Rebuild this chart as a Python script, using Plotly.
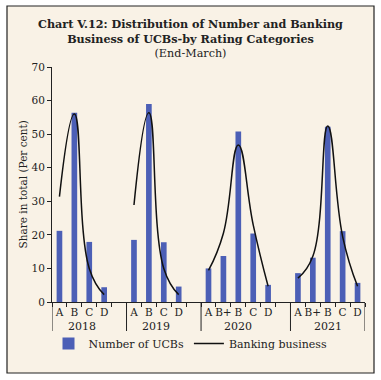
import plotly.graph_objects as go

years = ["2018", "2019", "2020", "2021"]
group_ratings = [["A", "B", "C", "D", ""],
                 ["A", "B", "C", "D", ""],
                 ["A", "B+", "B", "C", "D", ""],
                 ["A", "B+", "B", "C", "D"]]
number_of_ucbs = [21.2, 56.4, 17.9, 4.4, None,
                  18.5, 59.0, 17.8, 4.6, None,
                  10.0, 13.7, 50.8, 20.4, 5.1, None,
                  8.6, 13.2, 52.2, 21.1, 5.7]
banking_business = [31.4, 56.0, 10.0, 2.2, None,
                    28.9, 56.4, 10.0, 2.2, None,
                    9.4, 20.5, 46.8, 23.0, 4.7, None,
                    7.1, 13.6, 52.4, 19.5, 4.7]

ratings = [r for g in group_ratings for r in g]
xpos = list(range(len(ratings)))

W, H = 381, 380
L, R, T, B = 52, 16, 67, 78
pw, ph = W - L - R, H - T - B

def px2paper_x(p):
    return (p - L) / pw

def px2paper_y(p):
    return (H - B - p) / ph

serif = "DejaVu Serif"
ink = "#222222"

fig = go.Figure()
fig.add_trace(go.Bar(x=xpos, y=number_of_ucbs, name="Number of UCBs",
                     marker=dict(color="#4c5fb6", line=dict(width=0)), width=0.38))
fig.add_trace(go.Scatter(x=xpos, y=banking_business, name="Banking business",
                         mode="lines", line=dict(color="#111111", width=1.5, shape="spline", smoothing=1.3),
                         connectgaps=False))

fig.add_shape(type="rect", xref="paper", yref="paper",
              x0=px2paper_x(7), x1=px2paper_x(374), y0=px2paper_y(373), y1=px2paper_y(6),
              fillcolor="#f9f2e6", line=dict(color=ink, width=1.2), layer="below")

# group dividers and year labels
start = 0
bounds = [-0.5]
for yr, g in zip(years, group_ratings):
    end = start + len(g)
    bounds.append(end - 0.5)
    n_real = len([r for r in g if r])
    center = start + (n_real - 1) / 2
    fig.add_annotation(x=center, y=px2paper_y(326), xref="x", yref="paper", text=yr,
                       showarrow=False, font=dict(family=serif, size=11, color=ink),
                       xanchor="center", yanchor="middle")
    start = end
for b in bounds:
    fig.add_shape(type="line", xref="x", yref="paper", x0=b, x1=b,
                  y0=0, y1=px2paper_y(331), line=dict(color=ink, width=1))

fig.add_annotation(x=px2paper_x(22), y=0.5, xref="paper", yref="paper",
                   text="Share in total (Per cent)", textangle=-90, showarrow=False,
                   font=dict(family=serif, size=10.5, color=ink), xanchor="center", yanchor="middle")

fig.update_layout(
    width=W, height=H,
    margin=dict(l=L, r=R, t=T, b=B, autoexpand=False),
    paper_bgcolor="white", plot_bgcolor="rgba(0,0,0,0)",
    font=dict(family=serif, size=10, color=ink),
    title=dict(text="<b>Chart V.12: Distribution of Number and Banking<br>Business of UCBs-by Rating Categories</b><br>(End-March)",
               x=0.5, xref="container", xanchor="center", y=1 - 28 / H, yanchor="top",
               font=dict(family=serif, size=11.2, color=ink)),
    showlegend=True,
    legend=dict(orientation="h", x=0.5, xanchor="center", y=1 - 329 / H, yanchor="top",
                xref="container", yref="container", font=dict(family=serif, size=11),
                bgcolor="rgba(0,0,0,0)", itemwidth=30, tracegroupgap=0),
    xaxis=dict(range=[-0.5, len(ratings) - 0.5], tickmode="array", tickvals=xpos, ticktext=ratings,
               showline=True, linecolor=ink, linewidth=1, ticks="", showgrid=False, zeroline=False,
               automargin=False,
               tickfont=dict(family=serif, size=10.5, color=ink),
               minor=dict(tick0=-0.5, dtick=1, ticks="outside", ticklen=4, tickcolor=ink, showgrid=False)),
    yaxis=dict(range=[0, 70], dtick=10, showline=True, linecolor=ink, linewidth=1,
               ticks="outside", ticklen=4, tickcolor=ink, showgrid=False, zeroline=False,
               automargin=False,
               tickfont=dict(family=serif, size=10.5, color=ink)),
)

fig.write_html("out.html", config={"displayModeBar": False},
               post_script="document.body.style.margin='0';")
